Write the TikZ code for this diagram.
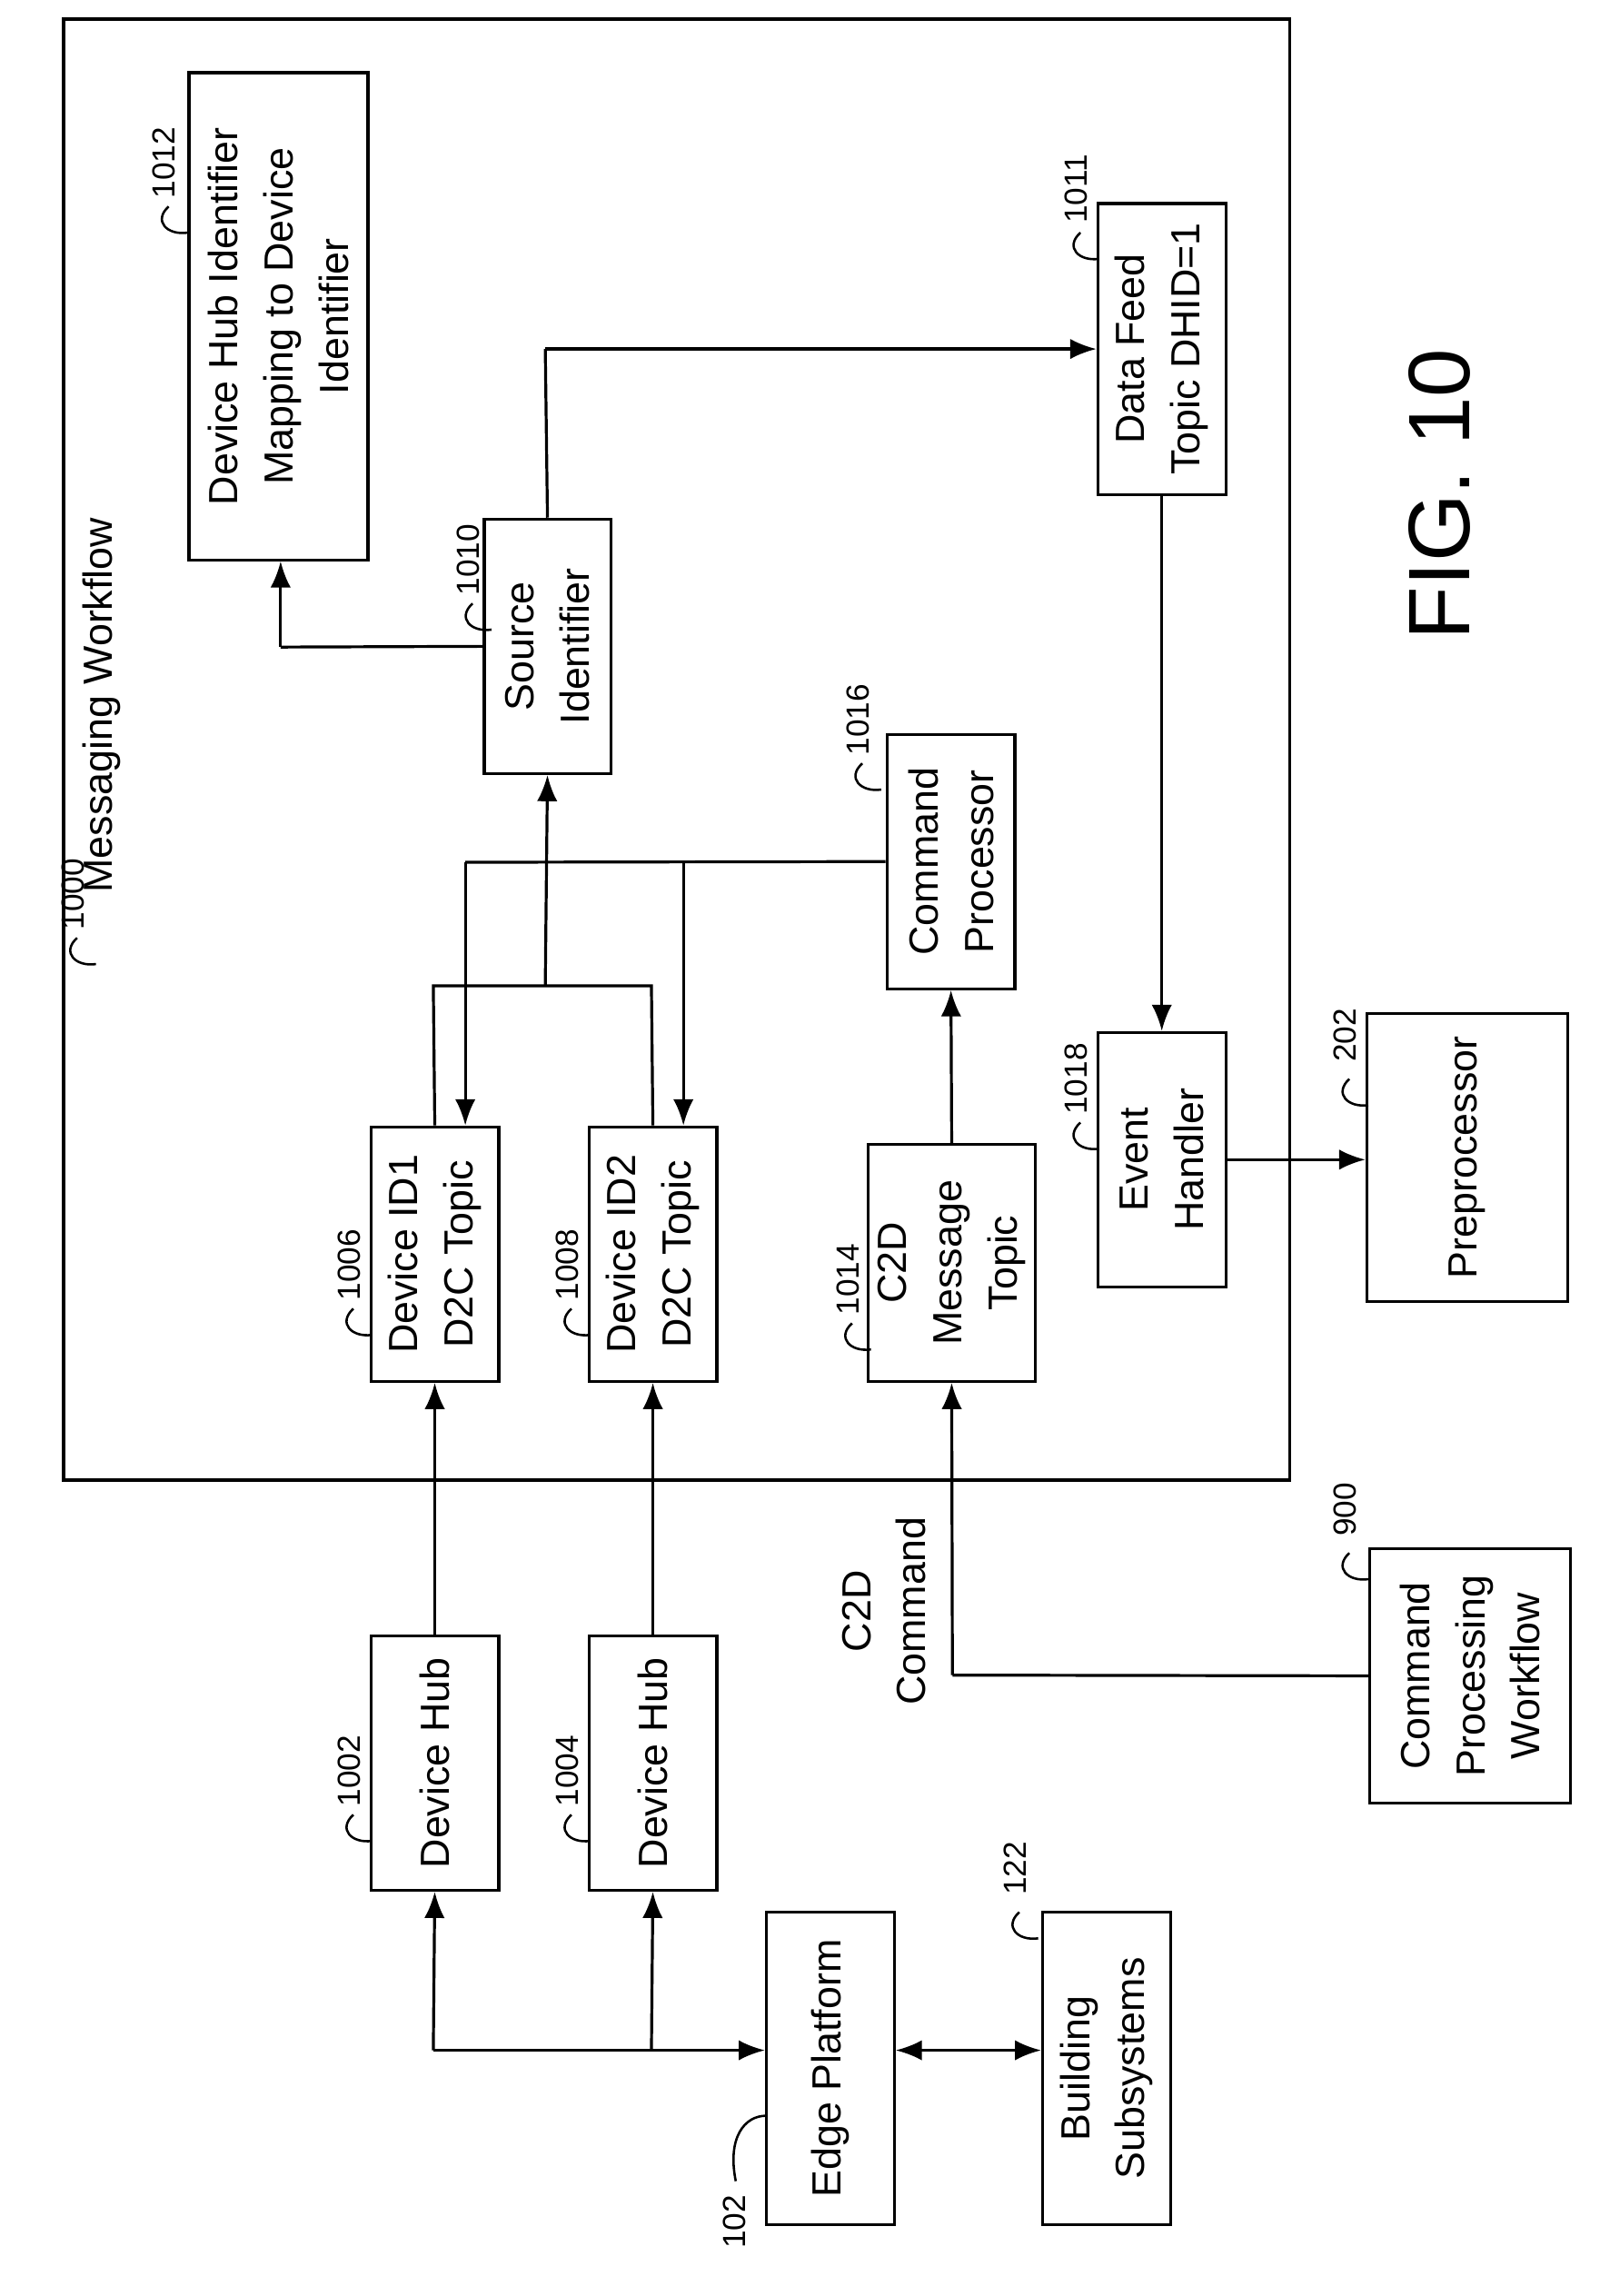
\documentclass[tikz,border=0pt]{standalone}
\usepackage{fontspec}
\setmainfont{Liberation Sans}
\usetikzlibrary{calc,arrows.meta}
\tikzset{
  box/.style={draw, line width=1pt, rotate=90, align=center, inner sep=1pt, font=\fontsize{14}{19}\selectfont},
  num/.style={rotate=90, font=\fontsize{11}{13}\selectfont, inner sep=0pt},
  link/.style={line width=1pt},
  arr/.style={line width=1pt, -{Latex[length=9pt,width=7pt]}}
}
\newcommand{\numlbl}[3]{%
  \node[num] at (#1,#2) {#3};
  \draw[line width=0.8pt] (#1+3,#2+30) .. controls (#1-8,#2+40) and (#1+2,#2+50) .. (#1+16,#2+48);
}
\begin{document}
\begin{tikzpicture}[x=0.5pt,y=-0.5pt]
  \useasboundingbox (0,0) rectangle (1100,1579);
  % outer frame
  \draw[line width=1.2pt] (44,13) rectangle (887,1018);
  \node[rotate=90, font=\fontsize{14}{17}\selectfont] (title) at (70,485) {Messaging Workflow};
  \node[rotate=90, font=\fontsize{30}{34}\selectfont] (fig) at (990,340) {FIG. 10};

  % boxes
  \node[box, minimum width=167.5pt, minimum height=61.5pt] (n1012) at (191.5,217.5) {Device Hub Identifier\\Mapping to Device\\Identifier};
  \node[box, minimum width=87.5pt, minimum height=43.5pt] (n1010) at (376.5,444.5) {Source\\Identifier};
  \node[box, minimum width=100pt, minimum height=44pt] (n1011) at (799,240) {Data Feed\\Topic DHID=1};
  \node[box, minimum width=87.5pt, minimum height=44pt] (n1016) at (654,592.5) {Command\\Processor};
  \node[box, minimum width=87.5pt, minimum height=44pt] (n1006) at (299,862.5) {Device ID1\\D2C Topic};
  \node[box, minimum width=87.5pt, minimum height=44pt] (n1008) at (449,862.5) {Device ID2\\D2C Topic};
  \node[box, minimum width=81.5pt, minimum height=57.5pt] (n1014) at (654.5,868.5) {C2D\\Message\\Topic};
  \node[box, minimum width=87.5pt, minimum height=44pt] (n1018) at (799,797.5) {Event\\Handler};
  \node[box, minimum width=99pt, minimum height=69pt] (n202) at (1009,796) {Preprocessor};
  \node[box, minimum width=87.5pt, minimum height=44pt] (n1002) at (299,1212.5) {Device Hub};
  \node[box, minimum width=87.5pt, minimum height=44pt] (n1004) at (449,1212.5) {Device Hub};
  \node[box, minimum width=87.5pt, minimum height=69pt] (n900) at (1011,1152.5) {Command\\Processing\\Workflow};
  \node[box, minimum width=107.5pt, minimum height=44pt] (n102) at (571,1422.5) {Edge Platform};
  \node[box, minimum width=107.5pt, minimum height=44pt] (n122) at (761,1422.5) {Building\\Subsystems};

  % reference numerals
  \numlbl{50}{615}{1000}
  \numlbl{113}{112}{1012}
  \numlbl{322}{385}{1010}
  \numlbl{740}{130}{1011}
  \numlbl{590}{495}{1016}
  \numlbl{240}{870}{1006}
  \numlbl{390}{870}{1008}
  \numlbl{583}{880}{1014}
  \numlbl{740}{742}{1018}
  \numlbl{925}{712}{202}
  \numlbl{240}{1218}{1002}
  \numlbl{390}{1218}{1004}
  \numlbl{925}{1038}{900}
  \numlbl{698}{1285}{122}
  \node[num] (l102) at (505,1528) {102};
  \draw[line width=0.8pt] (527,1455) .. controls (512,1455) and (500,1470) .. (506,1500);

  % connectors
  \coordinate (jA) at (298,1410);
  \coordinate (jB) at (448,1410);
  \draw[arr] (jA) -- (n102.north |- jA);
  \draw[arr] (jA) -- (n1002.west);
  \draw[arr] (jB) -- (n1004.west);
  \draw[line width=1pt, {Latex[length=9pt,width=7pt]}-{Latex[length=9pt,width=7pt]}] (n102.south |- jA) -- (n122.north |- jA);
  \draw[arr] (n1002.east) -- (n1006.west);
  \draw[arr] (n1004.east) -- (n1008.west);

  \coordinate (t1) at (298,678);
  \coordinate (t2) at (448,678);
  \draw[link] (n1006.east) -- (t1) -- (t2) -- (n1008.east);
  \draw[arr] (375,678) -- (n1010.west);

  \coordinate (c1) at (320,593);
  \coordinate (c2) at (470,593);
  \draw[link] (n1016.north) -- (c1);
  \draw[arr] (c1) -- (c1 |- n1006.east);
  \draw[arr] (c2) -- (c2 |- n1008.east);

  \coordinate (s1) at (193,445);
  \draw[link] (n1010.north) -- (s1);
  \draw[arr] (s1) -- (s1 |- n1012.west);

  \coordinate (s2) at (375,240);
  \draw[link] (n1010.east) -- (s2);
  \draw[arr] (s2) -- (n1011.north);
  \draw[arr] (n1011.west) -- (n1018.east);
  \draw[arr] (n1018.south) -- (n202.north |- n1018.south);
  \draw[arr] (n1014.east) -- (n1016.west);

  \coordinate (w1) at (655,1152);
  \draw[link] (n900.north) -- (w1);
  \draw[arr] (w1) -- (n1014.west);
  \node[rotate=90, align=center, font=\fontsize{14}{19}\selectfont] (cmd) at (608,1108) {C2D\\Command};
\end{tikzpicture}
\end{document}
